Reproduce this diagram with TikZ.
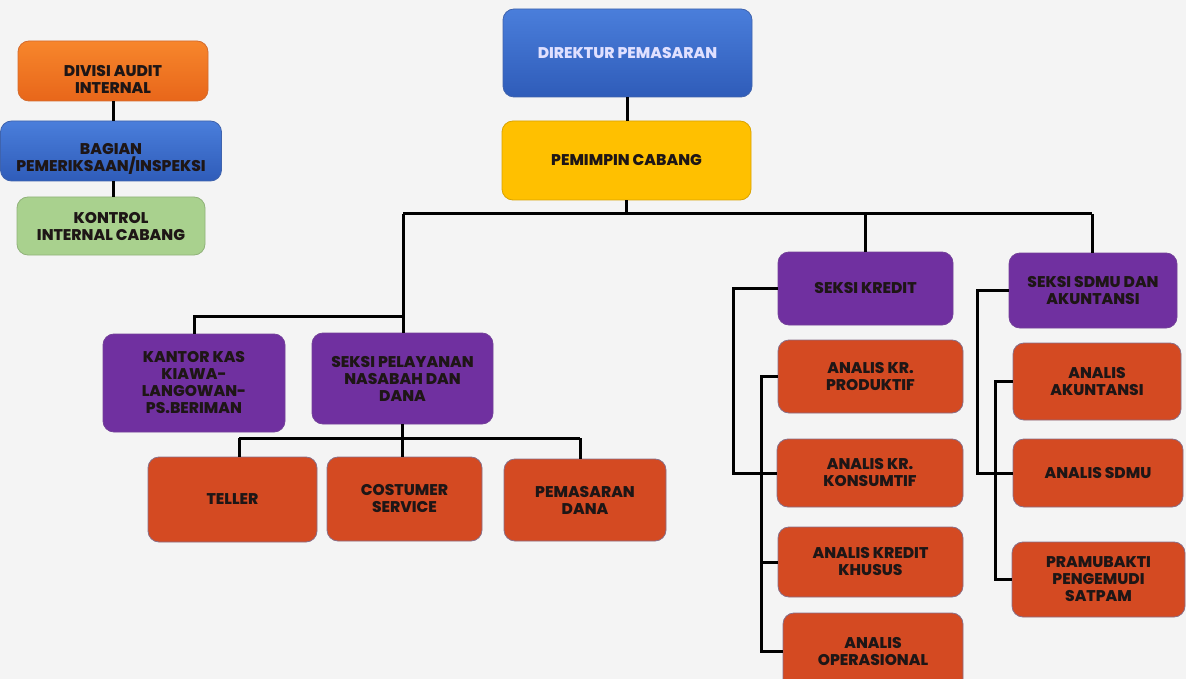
\documentclass[tikz,border=0pt]{standalone}
\usepackage{fontspec}
\setmainfont{Poppins}[BoldFont={* ExtraBold}]
\definecolor{bgc}{HTML}{F4F4F4}
\definecolor{blueT}{HTML}{4A7EDB}
\definecolor{blueB}{HTML}{2F5CB9}
\definecolor{orangeT}{HTML}{F7862C}
\definecolor{orangeB}{HTML}{E8661A}
\definecolor{yel}{HTML}{FFC000}
\definecolor{grn}{HTML}{A9D18E}
\definecolor{purp}{HTML}{7030A0}
\definecolor{rust}{HTML}{D44A22}
\definecolor{ink}{HTML}{1E1616}
\definecolor{edge}{HTML}{8A6E86}
\tikzset{
  labelfont/.style={align=center, text=ink,
    font=\fontsize{15.5}{17}\selectfont\bfseries},
  unit/.style={rounded corners=11pt, draw=edge, line width=0.8pt,
    inner sep=2pt, labelfont},
  bluebox/.style={unit, top color=blueT, bottom color=blueB, draw=blueB!80!gray},
  orangebox/.style={unit, top color=orangeT, bottom color=orangeB, draw=orangeB!80!gray},
  yellowbox/.style={unit, fill=yel, draw=yel!85!black},
  greenbox/.style={unit, fill=grn, draw=grn!85!black},
  purplebox/.style={unit, fill=purp, draw=purp!80!gray},
  rustbox/.style={unit, fill=rust},
  lowtext/.style={label={[labelfont, yshift=-8pt]center:#1}},
  link/.style={line width=3pt, draw=black}
}
\newcommand{\unitbox}[6]{% style, name, cx, cy, w, h, text
  \node[#1, minimum width=#5pt, minimum height=#6pt] (#2) at (#3,#4)}
\begin{document}
\begin{tikzpicture}[x=1pt,y=-1pt]
\fill[bgc] (0,0) rectangle (1186,679);
\useasboundingbox (0,0) rectangle (1186,679);
\clip (0,0) rectangle (1186,679);

% audit branch (first two labels sit a little below the box centre)
\unitbox{orangebox, lowtext={DIVISI AUDIT\\INTERNAL}}{audit}{113}{71}{190}{60} {};
\unitbox{bluebox, lowtext={BAGIAN\\PEMERIKSAAN/INSPEKSI}}{bagian}{111}{151}{221}{60} {};
\unitbox{greenbox}{kontrol}{111}{226}{188}{58} {KONTROL\\INTERNAL CABANG};

% top
\unitbox{bluebox}{direktur}{627.5}{53}{249}{88} {\color{white!88!blue}DIREKTUR PEMASARAN};
\unitbox{yellowbox}{pemimpin}{626.5}{160.5}{249}{79} {PEMIMPIN CABANG};

% left sections
\unitbox{purplebox}{kantor}{194}{383}{182}{98} {KANTOR KAS\\KIAWA-\\LANGOWAN-\\PS.BERIMAN};
\unitbox{purplebox}{pelayanan}{402.5}{378.5}{181}{91} {SEKSI PELAYANAN\\NASABAH DAN\\DANA};
\unitbox{rustbox}{teller}{232.5}{499.5}{169}{85} {TELLER};
\unitbox{rustbox}{costumer}{404.5}{499}{155}{84} {COSTUMER\\SERVICE};
\unitbox{rustbox}{pemdana}{585}{500}{162}{82} {PEMASARAN\\DANA};

% credit section
\unitbox{purplebox}{kredit}{865.5}{288.5}{175}{73} {SEKSI KREDIT};
\unitbox{rustbox}{produktif}{870.5}{376.5}{185}{73} {ANALIS KR.\\PRODUKTIF};
\unitbox{rustbox}{konsumtif}{870}{473}{186}{68} {ANALIS KR.\\KONSUMTIF};
\unitbox{rustbox}{khusus}{870.5}{562}{185}{70} {ANALIS KREDIT\\KHUSUS};
\unitbox{rustbox}{operasional}{873}{651.5}{180}{77} {ANALIS\\OPERASIONAL};

% HR and accounting section
\unitbox{purplebox}{sdmu}{1093}{290.5}{168}{75} {SEKSI SDMU DAN\\AKUNTANSI};
\unitbox{rustbox}{akuntansi}{1097}{381.5}{168}{77} {ANALIS\\AKUNTANSI};
\unitbox{rustbox}{asdmu}{1098}{473}{170}{68} {ANALIS SDMU};
\unitbox{rustbox}{pramubakti}{1098.5}{579.5}{173}{75} {PRAMUBAKTI\\PENGEMUDI\\SATPAM};

% connectors
\coordinate (busL) at (403,214);
\coordinate (busR) at (1092,214);
\coordinate (kbus) at (403,316);
\coordinate (pl) at (239,438);
\coordinate (pr) at (580,438);

\draw[link] (audit.south) -- (audit.south |- bagian.north);
\draw[link] (audit.south |- bagian.south) -- (audit.south |- kontrol.north);
\draw[link] (direktur.south) -- (direktur.south |- pemimpin.north);
\draw[link] (pemimpin.south) -- (pemimpin.south |- busL);
\draw[link] (busL) -- (busR);
\draw[link] (busL) -- (busL |- pelayanan.north);
\draw[link] (kantor.north) |- (kbus);
\draw[link] (kredit.north) -- (kredit.north |- busL);
\draw[link] (busR) -- (busR |- sdmu.north);
\draw[link] (pelayanan.south) -- (pelayanan.south |- costumer.north);
\draw[link] (pl) -- (pr);
\draw[link] (pl) -- (pl |- teller.north);
\draw[link] (pr) -- (pr |- pemdana.north);
\draw[link] (kredit.west) -- ++(-44,0) |- (konsumtif.west);
\draw[link] (produktif.west) -- ++(-16,0) |- (operasional.west);
\draw[link] (khusus.west) -- ++(-16,0);
\draw[link] (sdmu.west) -- ++(-31,0) |- (asdmu.west);
\draw[link] (akuntansi.west) -- ++(-17,0) |- (pramubakti.west);
\end{tikzpicture}
\end{document}
